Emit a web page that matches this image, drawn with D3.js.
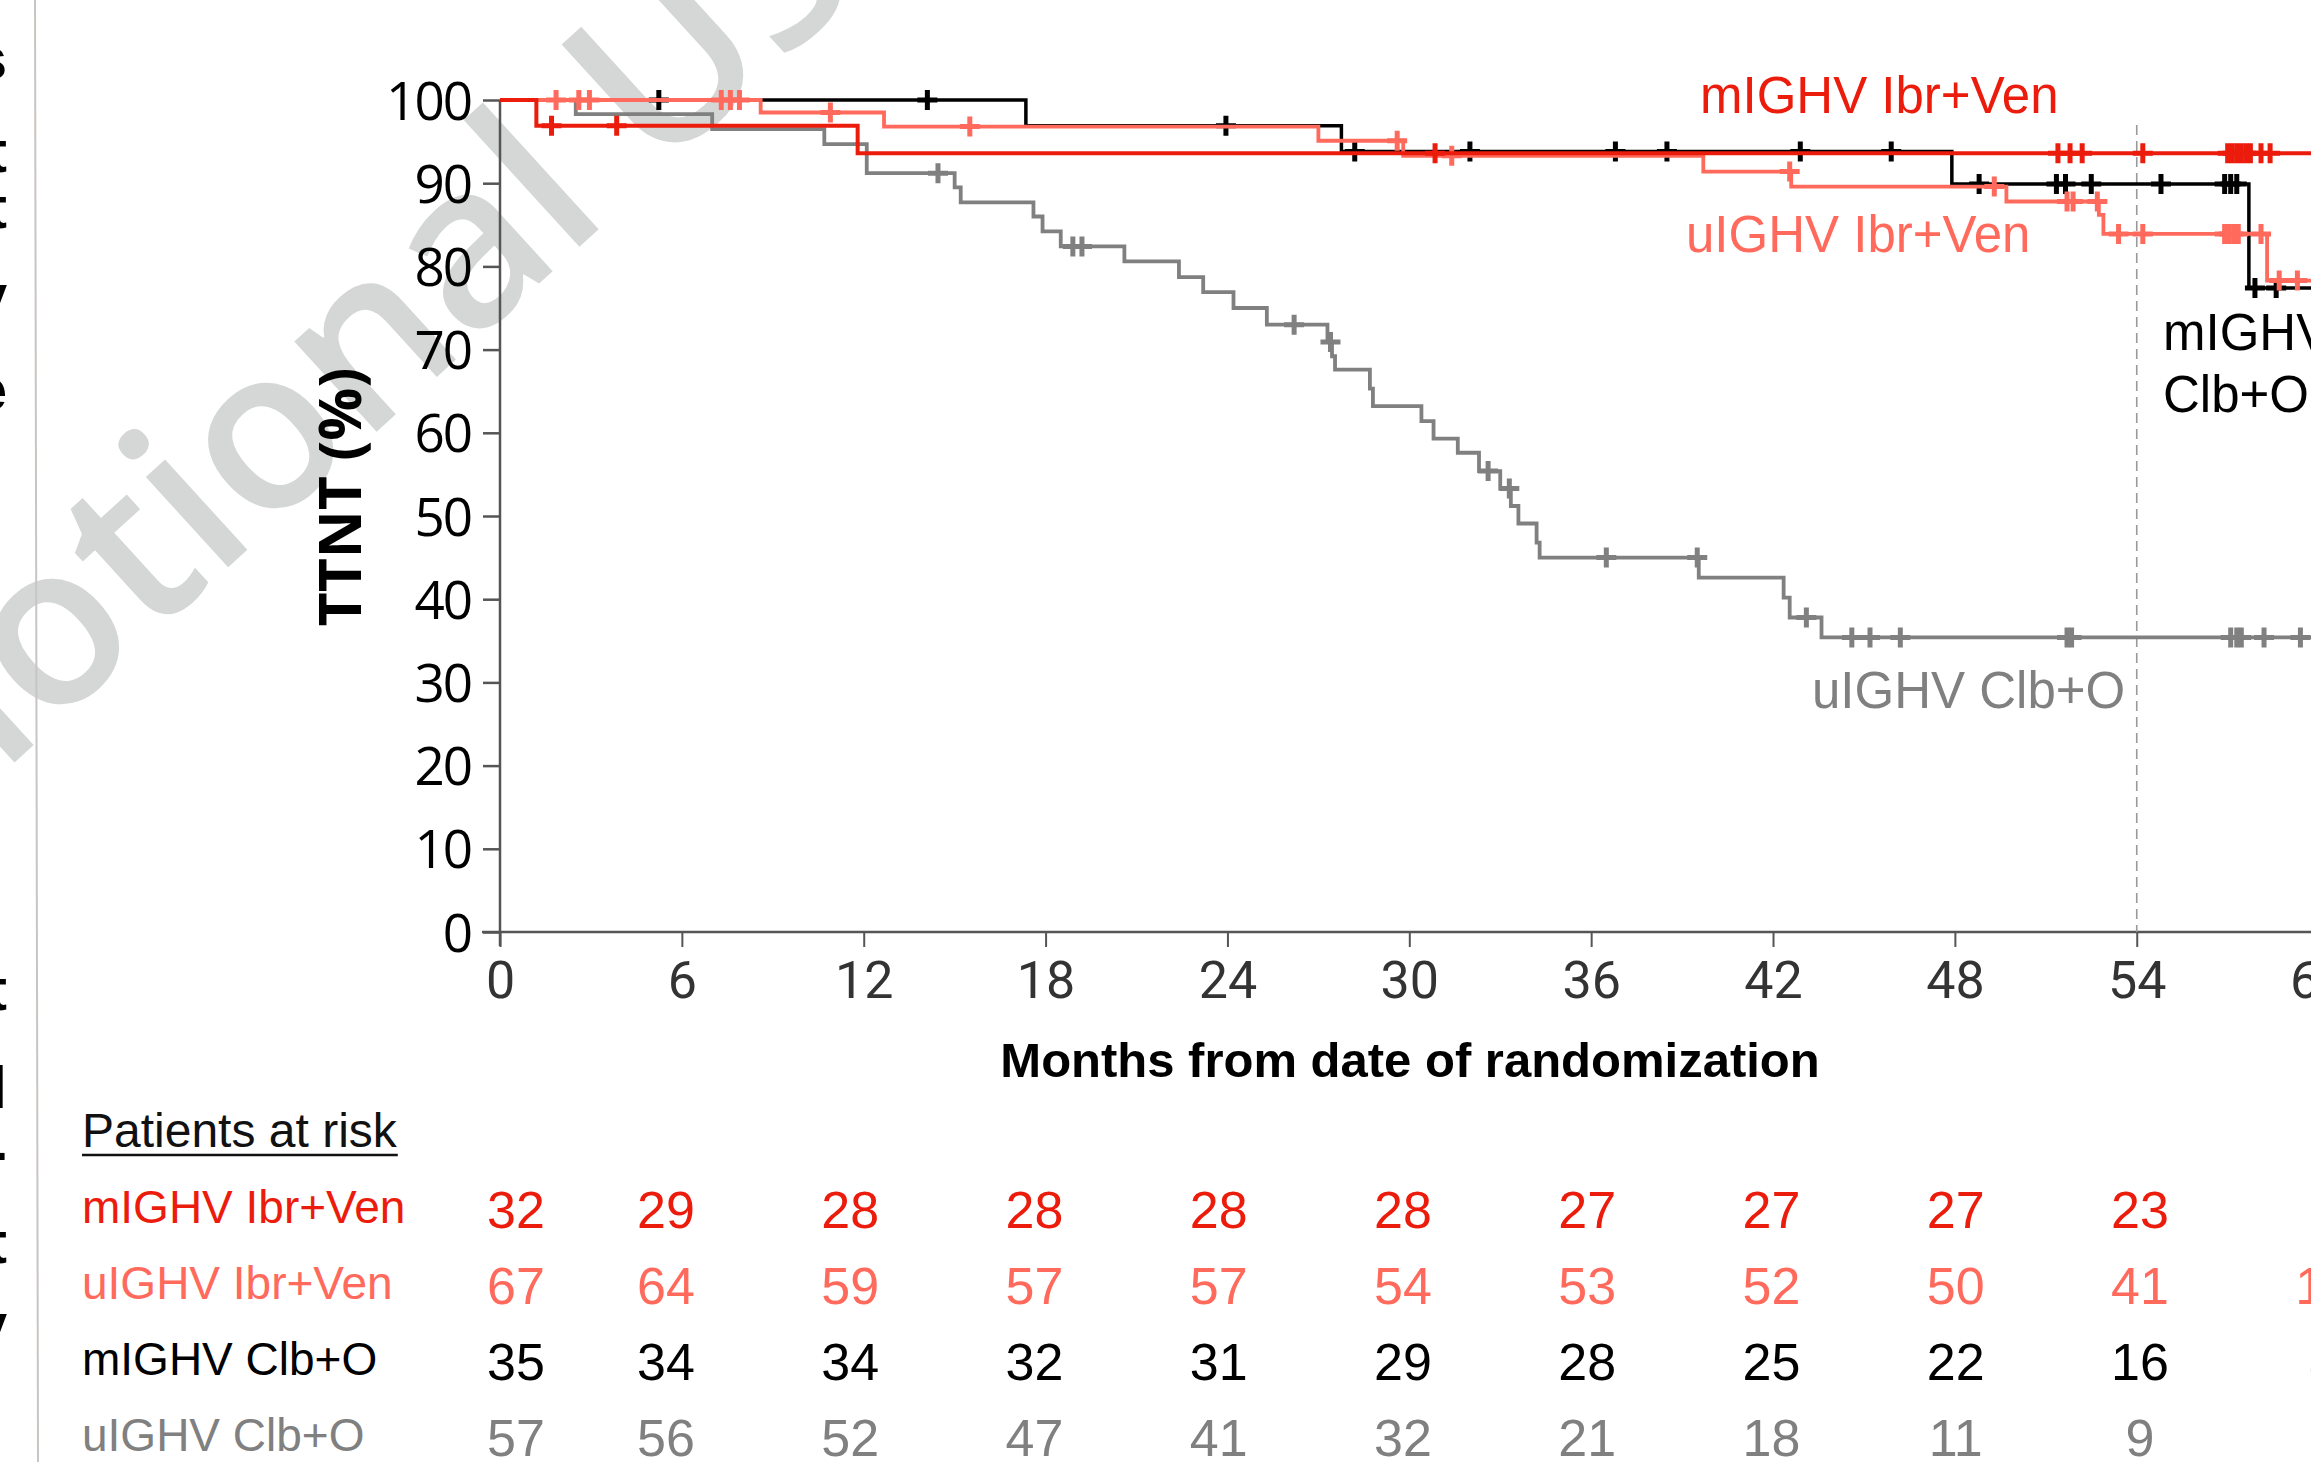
<!DOCTYPE html>
<html>
<head>
<meta charset="utf-8">
<script src="https://cdn.jsdelivr.net/npm/d3@7"></script>
<style>
  body { margin: 0; background: #fff; }
  svg { display: block; }
</style>
</head>
<body>
<svg id="chart"></svg>
<script>
// ---- data ----
var monthTicks = [0, 6, 12, 18, 24, 30, 36, 42, 48, 54, 60];
var pctTicks = [0, 10, 20, 30, 40, 50, 60, 70, 80, 90, 100];
var groups = ["mIGHV Ibr+Ven", "uIGHV Ibr+Ven", "mIGHV Clb+O", "uIGHV Clb+O"];
var colors = ["#ec1c0d", "#ff6a5c", "#000000", "#808080"];

// step curves: time of each step (months) and TTNT (%) after it
var mIbrTimes = [0, 1.2, 11.8];
var mIbrSurv = [100, 96.9, 93.6];
var mIbrCens = [1.7, 3.85, 30.85, 51.4, 51.8, 52.2, 54.2, 57.0, 57.15, 57.3, 57.45, 57.6, 57.75, 58.1, 58.4];

var uIbrTimes = [0, 8.6, 12.67, 27.0, 29.8, 39.7, 42.6, 49.7, 52.75, 52.9, 58.3];
var uIbrSurv = [100, 98.5, 96.8, 95.1, 93.3, 91.4, 89.6, 87.8, 86.2, 83.9, 78.3];
var uIbrCens = [1.85, 2.6, 2.95, 7.3, 7.6, 7.9, 10.9, 15.5, 29.6, 31.4, 42.55, 49.3, 51.7, 51.9, 52.7, 53.4, 54.2, 56.9, 57.05, 57.2, 57.35, 58.1, 58.7, 59.3];

var mClbTimes = [0, 17.35, 27.76, 47.9, 57.7];
var mClbSurv = [100, 96.9, 93.8, 89.9, 77.4];
var mClbCens = [5.24, 14.1, 23.95, 28.2, 32.0, 36.8, 38.5, 42.9, 45.9, 48.8, 51.35, 51.65, 52.5, 54.8, 56.9, 57.1, 57.3, 57.9, 58.6];

var uClbTimes = [0, 2.5, 7.0, 10.7, 12.1, 15.0, 15.2, 17.6, 17.9, 18.5, 20.6, 22.4, 23.2, 24.2, 25.3, 27.3, 27.45, 27.55, 28.7, 28.8, 30.4, 30.8, 31.6, 32.3, 33.0, 33.35, 33.6, 34.2, 34.3, 39.55, 42.35, 42.55, 43.6];
var uClbSurv = [100, 98.3, 96.5, 94.7, 91.2, 89.5, 87.7, 86.0, 84.2, 82.4, 80.6, 78.7, 76.9, 75.0, 73.0, 70.9, 69.2, 67.6, 65.3, 63.2, 61.4, 59.3, 57.6, 55.4, 53.3, 51.2, 49.1, 46.8, 45.0, 42.6, 40.2, 37.8, 35.4];
var uClbCens = [14.45, 18.9, 19.2, 26.2, 27.4, 32.6, 33.3, 36.5, 39.5, 43.1, 44.6, 45.2, 46.2, 51.7, 51.85, 57.1, 57.3, 57.45, 58.2, 59.4];

// patients at risk at each month tick
var riskMIbr = [32, 29, 28, 28, 28, 28, 27, 27, 27, 23, 6];
var riskUIbr = [67, 64, 59, 57, 57, 54, 53, 52, 50, 41, 17];
var riskMClb = [35, 34, 34, 32, 31, 29, 28, 25, 22, 16, 4];
var riskUClb = [57, 56, 52, 47, 41, 32, 21, 18, 11, 9, 1];

// ends of cropped text lines at the left border
var sideGlyphs = ["s", "t", "t", "v", "e", "t", "l", "-", "t", "v"];
var sideBaselines = [79, 172, 228, 316, 410, 1010, 1108, 1172, 1263, 1345];

var curves = [
  {name: groups[0], color: colors[0], times: mIbrTimes, surv: mIbrSurv, cens: mIbrCens, risk: riskMIbr, width: 4},
  {name: groups[1], color: colors[1], times: uIbrTimes, surv: uIbrSurv, cens: uIbrCens, risk: riskUIbr, width: 3.8},
  {name: groups[2], color: colors[2], times: mClbTimes, surv: mClbSurv, cens: mClbCens, risk: riskMClb, width: 3.5},
  {name: groups[3], color: colors[3], times: uClbTimes, surv: uClbSurv, cens: uClbCens, risk: riskUClb, width: 3.8}
];

var W = 2311, H = 1462;
var svg = d3.select("#chart").attr("width", W).attr("height", H);

var x = d3.scaleLinear().domain([0, 60]).range([500, 2318.6]);
var y = d3.scaleLinear().domain([0, 100]).range([932, 100]);
// risk table columns sit on their own spacing
var riskX = d3.scaleLinear().domain([0, 6, 54]).range([516, 666, 2140]);

// watermark
svg.append("text")
  .attr("transform", "translate(-389,1131) rotate(-42.4)")
  .attr("font-family", "Open Sans, sans-serif")
  .attr("font-weight", 600)
  .attr("font-size", 226)
  .attr("fill", "#d5d7d7")
  .text("Promotional Use");

// left border line + clipped text
svg.append("line")
  .attr("x1", 35).attr("x2", 38).attr("y1", 0).attr("y2", H)
  .attr("stroke", "#c9c5c2").attr("stroke-width", 2);

svg.selectAll(".side").data(sideGlyphs).enter().append("text")
  .attr("class", "side")
  .attr("x", 7)
  .attr("y", function(d, i) { return sideBaselines[i]; })
  .attr("text-anchor", "end")
  .attr("font-family", "Liberation Sans, Arial, sans-serif")
  .attr("font-weight", "bold")
  .attr("font-size", 60)
  .text(function(d) { return d; });

// y axis
var yAxis = d3.axisLeft(y).tickValues(pctTicks).tickSize(17).tickPadding(12);
var gy = svg.append("g").attr("transform", "translate(500,0)").call(yAxis);
gy.select(".domain").attr("stroke", "#555").attr("stroke-width", 2.5).attr("d", "M0,100V946");
gy.selectAll(".tick line").attr("stroke", "#555").attr("stroke-width", 2.5);
gy.selectAll(".tick text")
  .attr("font-family", "Open Sans, sans-serif")
  .attr("font-size", 53)
  .attr("letter-spacing", -2)
  .attr("fill", "#000")
  .attr("dy", "0.36em");

// x axis
var xAxis = d3.axisBottom(x).tickValues(monthTicks).tickSize(15).tickPadding(14);
var gx = svg.append("g").attr("transform", "translate(0,932)").call(xAxis);
gx.select(".domain").attr("stroke", "#555").attr("stroke-width", 2.5).attr("d", "M482,0H2320");
gx.selectAll(".tick line").attr("stroke", "#555").attr("stroke-width", 2);
gx.selectAll(".tick text")
  .attr("font-family", "Roboto, sans-serif")
  .attr("font-size", 52)
  .attr("fill", "#333")
  .attr("dy", "0.72em");

// axis titles
svg.append("text")
  .attr("transform", "translate(361,497) rotate(-90)")
  .attr("text-anchor", "middle")
  .attr("font-family", "Open Sans, sans-serif")
  .attr("font-weight", "bold")
  .attr("font-size", 59)
  .text("TTNT (%)");

svg.append("text")
  .attr("x", 1410).attr("y", 1077)
  .attr("text-anchor", "middle")
  .attr("font-family", "Liberation Sans, Arial, sans-serif")
  .attr("font-weight", "bold")
  .attr("font-size", 49)
  .text("Months from date of randomization");

// landmark line at 54 months
svg.append("line")
  .attr("x1", x(54)).attr("x2", x(54))
  .attr("y1", 125).attr("y2", y(0))
  .attr("stroke", "#999").attr("stroke-width", 1.6)
  .attr("stroke-dasharray", "10,6");

// curves, back to front
function survAt(c, t) {
  var i = d3.bisectRight(c.times, t) - 1;
  return c.surv[Math.max(i, 0)];
}
var line = d3.line()
  .x(function(d) { return x(d[0]); })
  .y(function(d) { return y(d[1]); })
  .curve(d3.curveStepAfter);

[3, 2, 1, 0].forEach(function(k) {
  var c = curves[k];
  var pts = c.times.map(function(t, i) { return [t, c.surv[i]]; });
  pts.push([62, c.surv[c.surv.length - 1]]);
  var g = svg.append("g");
  g.append("path")
    .attr("d", line(pts))
    .attr("fill", "none")
    .attr("stroke", c.color)
    .attr("stroke-width", c.width);
  g.selectAll("path.cens").data(c.cens).enter().append("path")
    .attr("class", "cens")
    .attr("d", function(t) {
      var cx = x(t), cy = y(survAt(c, t));
      return "M" + (cx - 10) + "," + cy + "H" + (cx + 10) + "M" + cx + "," + (cy - 10) + "V" + (cy + 10);
    })
    .attr("stroke", c.color)
    .attr("stroke-width", 5);
});

// curve labels
var labelFont = "Liberation Sans, Arial, sans-serif";
function curveLabel(txt, color, lx, ly) {
  svg.append("text").attr("x", lx).attr("y", ly)
    .attr("font-family", labelFont).attr("font-size", 51)
    .attr("fill", color).text(txt);
}
curveLabel(groups[0], colors[0], 1700, 113);
curveLabel(groups[1], colors[1], 1686, 252);
curveLabel("mIGHV", colors[2], 2163, 350);
curveLabel("Clb+O", colors[2], 2163, 412);
curveLabel(groups[3], colors[3], 1812, 708);

// patients at risk table
var head = svg.append("text")
  .attr("x", 82).attr("y", 1147)
  .attr("font-family", labelFont).attr("font-size", 48)
  .attr("fill", "#111")
  .text("Patients at risk");
var hb = head.node().getBBox();
svg.append("line")
  .attr("x1", hb.x).attr("x2", hb.x + hb.width)
  .attr("y1", 1155).attr("y2", 1155)
  .attr("stroke", "#111").attr("stroke-width", 2.5);

var rowBase = [1228, 1304, 1380, 1456];
curves.forEach(function(c, r) {
  svg.append("text")
    .attr("x", 82).attr("y", rowBase[r] - 5)
    .attr("font-family", labelFont).attr("font-size", 46)
    .attr("fill", c.color)
    .text(c.name);
  svg.selectAll(".risk" + r).data(c.risk).enter().append("text")
    .attr("class", "risk" + r)
    .attr("x", function(d, i) { return riskX(monthTicks[i]); })
    .attr("y", rowBase[r])
    .attr("text-anchor", "middle")
    .attr("font-family", labelFont).attr("font-size", 52)
    .attr("fill", c.color)
    .text(function(d) { return d; });
});
</script>
</body>
</html>
